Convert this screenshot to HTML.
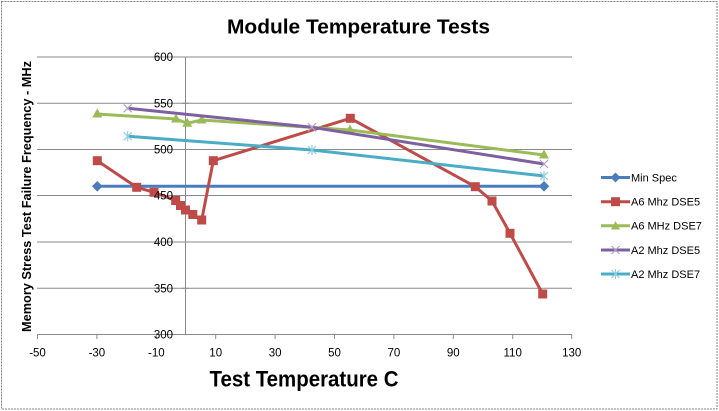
<!DOCTYPE html>
<html><head><meta charset="utf-8"><style>
html,body{margin:0;padding:0;background:#fff;}
svg{display:block;}
text{font-family:"Liberation Sans",Arial,sans-serif;}
</style></head><body>
<svg width="719" height="411" viewBox="0 0 719 411" xmlns="http://www.w3.org/2000/svg">
<rect x="0" y="0" width="719" height="411" fill="#fff"/>
<rect x="1.5" y="1.5" width="715.5" height="407.5" fill="none" stroke="#808080" stroke-width="1" stroke-dasharray="2,1"/>
<!-- gridlines -->
<g stroke="#8a8a8a" stroke-width="1">
<line x1="37" y1="57" x2="572" y2="57"/>
<line x1="37" y1="103.3" x2="572" y2="103.3"/>
<line x1="37" y1="149.5" x2="572" y2="149.5"/>
<line x1="37" y1="195.5" x2="572" y2="195.5"/>
<line x1="37" y1="242" x2="572" y2="242"/>
<line x1="37" y1="288.3" x2="572" y2="288.3"/>
<line x1="37" y1="334.5" x2="572" y2="334.5"/>
<line x1="185.5" y1="57" x2="185.5" y2="334.5"/>
</g>
<g stroke="#8a8a8a" stroke-width="1">
<line x1="37.5" y1="334" x2="37.5" y2="339"/>
<line x1="96.9" y1="334" x2="96.9" y2="339"/>
<line x1="156.3" y1="334" x2="156.3" y2="339"/>
<line x1="215.7" y1="334" x2="215.7" y2="339"/>
<line x1="275.1" y1="334" x2="275.1" y2="339"/>
<line x1="334.5" y1="334" x2="334.5" y2="339"/>
<line x1="393.9" y1="334" x2="393.9" y2="339"/>
<line x1="453.3" y1="334" x2="453.3" y2="339"/>
<line x1="512.7" y1="334" x2="512.7" y2="339"/>
<line x1="571.7" y1="334" x2="571.7" y2="339"/>
<line x1="182" y1="57" x2="189" y2="57"/>
<line x1="182" y1="103.3" x2="189" y2="103.3"/>
<line x1="182" y1="149.5" x2="189" y2="149.5"/>
<line x1="182" y1="195.5" x2="189" y2="195.5"/>
<line x1="182" y1="242" x2="189" y2="242"/>
<line x1="182" y1="288.3" x2="189" y2="288.3"/>
</g>

<!-- Min Spec -->
<polyline points="97.3,186.3 544,186.3" fill="none" stroke="#4a7ebb" stroke-width="3"/>
<g fill="#4a7ebb">
<polygon points="97.3,181 102.6,186.3 97.3,191.6 92,186.3"/>
<polygon points="544,181 549.3,186.3 544,191.6 538.7,186.3"/>
</g>

<!-- A6 Mhz DSE5 -->
<polyline points="97.3,160.7 136.7,187.3 154,192.3 175.7,200.5 180.5,205.5 185.5,210 192.8,214.5 201.7,220 213.3,160.7 350.3,118.3 475.3,186.7 492,201 510,233.3 542.7,294" fill="none" stroke="#be4b48" stroke-width="3" stroke-linejoin="round"/>
<g fill="#be4b48">
<rect x="92.8" y="156.2" width="9" height="9"/>
<rect x="132.2" y="182.8" width="9" height="9"/>
<rect x="149.5" y="187.8" width="9" height="9"/>
<rect x="171.2" y="196" width="9" height="9"/>
<rect x="176" y="201" width="9" height="9"/>
<rect x="181" y="205.5" width="9" height="9"/>
<rect x="188.3" y="210" width="9" height="9"/>
<rect x="197.2" y="215.5" width="9" height="9"/>
<rect x="208.8" y="156.2" width="9" height="9"/>
<rect x="345.8" y="113.8" width="9" height="9"/>
<rect x="470.8" y="182.2" width="9" height="9"/>
<rect x="487.5" y="196.5" width="9" height="9"/>
<rect x="505.5" y="228.8" width="9" height="9"/>
<rect x="538.2" y="289.5" width="9" height="9"/>
</g>

<!-- A6 MHz DSE7 -->
<polyline points="97.3,114 176,119 187.3,123.3 201.7,120 350,130 544,155" fill="none" stroke="#9bbb59" stroke-width="3" stroke-linejoin="round"/>
<g fill="#9bbb59">
<polygon points="97.3,108.5 102.3,117.5 92.3,117.5"/>
<polygon points="176,113.5 181,122.5 171,122.5"/>
<polygon points="187.3,117.8 192.3,126.8 182.3,126.8"/>
<polygon points="201.7,114.5 206.7,123.5 196.7,123.5"/>
<polygon points="350,124.5 355,133.5 345,133.5"/>
<polygon points="544,149.5 549,158.5 539,158.5"/>
</g>

<!-- A2 Mhz DSE5 -->
<polyline points="127.7,108.3 312,127.3 544,164" fill="none" stroke="#7d60a0" stroke-width="3"/>
<g stroke="#b3a2c7" stroke-width="1.2">
<path d="M123.7,104.3 L131.7,112.3 M131.7,104.3 L123.7,112.3"/>
<path d="M308,123.3 L316,131.3 M316,123.3 L308,131.3"/>
<path d="M540,160 L548,168 M548,160 L540,168"/>
</g>

<!-- A2 Mhz DSE7 -->
<polyline points="127.7,136.3 312,150 544,176" fill="none" stroke="#4bacc6" stroke-width="3"/>
<g stroke="#93cddd" stroke-width="1.2">
<path d="M123.7,132.3 L131.7,140.3 M131.7,132.3 L123.7,140.3 M127.7,131.3 L127.7,141.3"/>
<path d="M308,146 L316,154 M316,146 L308,154 M312,145 L312,155"/>
<path d="M540,172 L548,180 M548,172 L540,180 M544,171 L544,181"/>
</g>

<!-- Y tick labels -->
<g font-size="11.5" fill="#000" text-anchor="end">
<text x="173" y="61">600</text>
<text x="173" y="107.3">550</text>
<text x="173" y="153.5">500</text>
<text x="173" y="199.5">450</text>
<text x="173" y="246">400</text>
<text x="173" y="292.3">350</text>
<text x="173" y="338.5">300</text>
</g>
<!-- X tick labels -->
<g font-size="11.5" fill="#000" text-anchor="middle">
<text x="37.5" y="356.5">-50</text>
<text x="96.9" y="356.5">-30</text>
<text x="156.3" y="356.5">-10</text>
<text x="215.7" y="356.5">10</text>
<text x="275.1" y="356.5">30</text>
<text x="334.5" y="356.5">50</text>
<text x="393.9" y="356.5">70</text>
<text x="453.3" y="356.5">90</text>
<text x="512.7" y="356.5">110</text>
<text x="571.7" y="356.5">130</text>
</g>

<!-- Titles -->
<text x="227" y="33.5" font-size="20" font-weight="bold" textLength="263" lengthAdjust="spacingAndGlyphs">Module Temperature Tests</text>
<text x="209.5" y="386.5" font-size="22" font-weight="bold" textLength="189" lengthAdjust="spacingAndGlyphs">Test Temperature C</text>
<text transform="translate(31,332) rotate(-90)" x="0" y="0" font-size="13" font-weight="bold" textLength="271" lengthAdjust="spacingAndGlyphs">Memory Stress Test Failure Frequency - MHz</text>

<!-- Legend -->
<g font-size="11" fill="#000">
<line x1="601" y1="177.5" x2="630" y2="177.5" stroke="#4a7ebb" stroke-width="3"/>
<polygon points="615.5,172.5 620.5,177.5 615.5,182.5 610.5,177.5" fill="#4a7ebb"/>
<text x="631" y="181.5">Min Spec</text>

<line x1="601" y1="201.7" x2="630" y2="201.7" stroke="#be4b48" stroke-width="3"/>
<rect x="611" y="197.2" width="9" height="9" fill="#be4b48"/>
<text x="631" y="205.7">A6 Mhz DSE5</text>

<line x1="601" y1="225.7" x2="630" y2="225.7" stroke="#9bbb59" stroke-width="3"/>
<polygon points="615.5,221 620,229.5 611,229.5" fill="#9bbb59"/>
<text x="631" y="229.7">A6 MHz DSE7</text>

<line x1="601" y1="250" x2="630" y2="250" stroke="#7d60a0" stroke-width="3"/>
<path d="M611.5,246 L619.5,254 M619.5,246 L611.5,254" stroke="#b3a2c7" stroke-width="1.2"/>
<text x="631" y="254">A2 Mhz DSE5</text>

<line x1="601" y1="274" x2="630" y2="274" stroke="#4bacc6" stroke-width="3"/>
<path d="M611.5,270 L619.5,278 M619.5,270 L611.5,278 M615.5,269 L615.5,279" stroke="#93cddd" stroke-width="1.2"/>
<text x="631" y="278">A2 Mhz DSE7</text>
</g>
</svg>
</body></html>
